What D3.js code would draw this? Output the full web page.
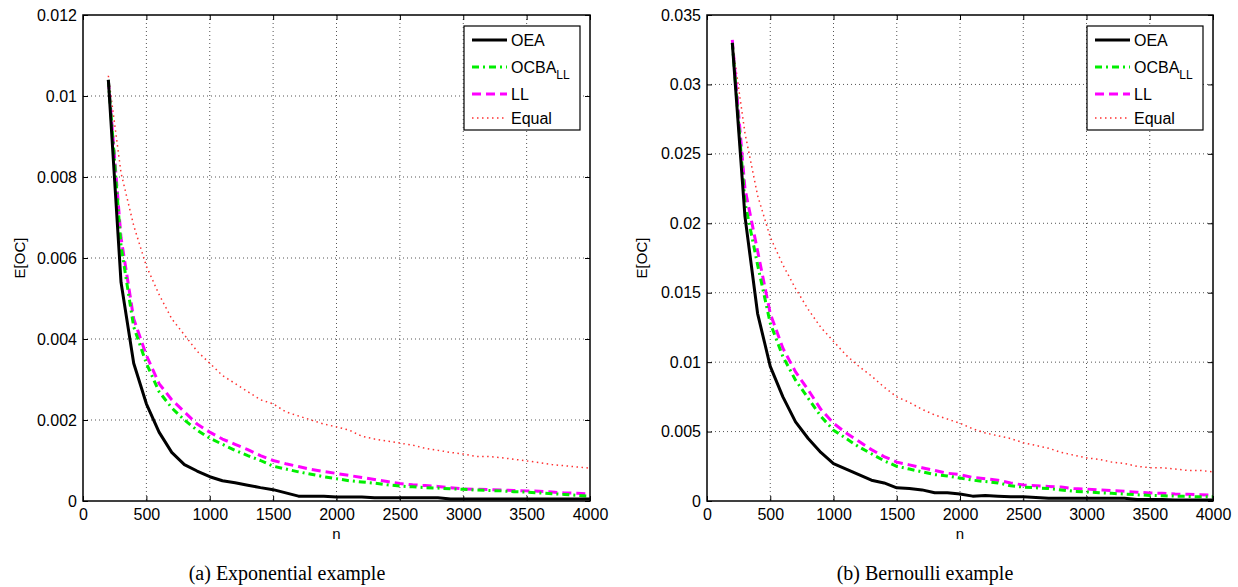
<!DOCTYPE html>
<html><head><meta charset="utf-8">
<script src="https://cdn.jsdelivr.net/npm/d3@7"></script>
<style>
body{margin:0;background:#fff;}
svg text{font-family:"Liberation Sans",Arial,Helvetica,sans-serif;}
</style></head>
<body><svg id="c" width="1238" height="587"></svg>
<script>
// ---- data ----
const nValues = d3.range(200, 4001, 100);
const seriesNames = ["OEA", "OCBA", "LL", "Equal"];
const xTicks = [0, 500, 1000, 1500, 2000, 2500, 3000, 3500, 4000];
const yTicksExp = [0, 0.002, 0.004, 0.006, 0.008, 0.010, 0.012];
const yTicksBer = [0, 0.005, 0.010, 0.015, 0.020, 0.025, 0.030, 0.035];
const captions = ["(a) Exponential example", "(b) Bernoulli example"];

// Exponential example (n = 200..4000 step 100)
const expOEA = [0.0104,0.0054,0.0034,0.0024,0.0017,0.0012,0.0009,0.00074,0.0006,0.0005,0.00045,0.00039,0.00033,0.00028,0.0002,0.00012,0.00012,0.00012,0.0001,0.0001,0.0001,0.00008,0.00008,0.00008,0.00008,0.00008,0.00008,0.00005,0.00005,0.00005,0.00005,0.00005,0.00005,0.00005,0.00005,0.00005,0.00005,0.00005,0.00005];
const expOCBA = [0.0104,0.0063,0.0043,0.0034,0.0027,0.0023,0.002,0.00175,0.00155,0.0014,0.00125,0.00112,0.001,0.00086,0.00079,0.00072,0.00066,0.0006,0.00055,0.0005,0.00047,0.00044,0.0004,0.00037,0.00035,0.00033,0.00032,0.0003,0.00029,0.00027,0.00026,0.00025,0.00023,0.00022,0.0002,0.00018,0.00016,0.00014,0.00012];
const expLL = [0.0104,0.0065,0.0045,0.0036,0.0029,0.0025,0.0022,0.0019,0.0017,0.00153,0.0014,0.00127,0.00112,0.001,0.00092,0.00085,0.00078,0.00073,0.00068,0.00063,0.00058,0.00053,0.00048,0.00043,0.0004,0.00038,0.00036,0.00033,0.0003,0.00029,0.00028,0.00027,0.00026,0.00025,0.00024,0.00022,0.0002,0.00019,0.00017];
const expEqual = [0.0105,0.0081,0.0068,0.0058,0.0051,0.0045,0.0041,0.0037,0.0034,0.0031,0.0029,0.0027,0.0025,0.0024,0.0022,0.0021,0.002,0.0019,0.00183,0.00175,0.0016,0.00153,0.00148,0.00143,0.00138,0.0013,0.00125,0.0012,0.00116,0.0011,0.0011,0.00107,0.00103,0.00099,0.00095,0.0009,0.00087,0.00084,0.00081];

// Bernoulli example
const berOEA = [0.033,0.0205,0.0135,0.0097,0.0075,0.0057,0.0045,0.0035,0.0027,0.0023,0.0019,0.0015,0.0013,0.00095,0.0009,0.0008,0.0006,0.0006,0.0005,0.00035,0.0004,0.00035,0.0003,0.0003,0.00025,0.0002,0.0002,0.0002,0.0002,0.0002,0.0002,0.0002,0.0001,0.0001,0.0001,0.00008,0.00008,0.00008,0.00008];
const berOCBA = [0.033,0.0215,0.017,0.0128,0.0104,0.0087,0.0074,0.0061,0.0051,0.0045,0.0039,0.0034,0.0029,0.0025,0.0023,0.0021,0.0019,0.0018,0.00165,0.0015,0.0014,0.0013,0.0011,0.001,0.00095,0.0009,0.0008,0.0007,0.00065,0.0006,0.00055,0.0005,0.00045,0.0004,0.00038,0.00035,0.00033,0.0003,0.0003];
const berLL = [0.0332,0.0225,0.018,0.0135,0.011,0.0093,0.008,0.0066,0.0056,0.0049,0.0043,0.0037,0.0032,0.0028,0.0026,0.0024,0.0022,0.002,0.0019,0.0017,0.0016,0.0015,0.0013,0.00115,0.0011,0.00105,0.001,0.0009,0.00086,0.0008,0.00075,0.0007,0.00063,0.00058,0.00055,0.0005,0.00048,0.00045,0.00043];
const berEqual = [0.033,0.0265,0.022,0.019,0.017,0.0153,0.0138,0.0125,0.0115,0.0105,0.0097,0.009,0.0082,0.0075,0.0071,0.0066,0.0062,0.0059,0.0056,0.0052,0.0049,0.0047,0.0045,0.0042,0.004,0.0038,0.0035,0.0033,0.0031,0.003,0.0028,0.0027,0.0025,0.0024,0.0024,0.0023,0.0022,0.0022,0.0021];

// ---- styles ----
const styles = {
  OEA:   {color:"#000000", width:3,   dash:null},
  OCBA:  {color:"#00ee00", width:3,   dash:"7,4,2,4"},
  LL:    {color:"#ff00ff", width:3,   dash:"9,5"},
  Equal: {color:"#ff3030", width:1.5, dash:"1.5,3.5"}
};

const svg = d3.select("#c");

function drawPanel(cfg){
  const {left, right, top, bottom, yMax, yTicks, series, legendX, ylabX, caption, capX} = cfg;
  const x = d3.scaleLinear().domain([0, 4000]).range([left, right]);
  const y = d3.scaleLinear().domain([0, yMax]).range([bottom, top]);
  const g = svg.append("g");
  const clipId = "clip" + left;
  g.append("clipPath").attr("id", clipId).append("rect")
    .attr("x", left).attr("y", top).attr("width", right-left).attr("height", bottom-top);

  // grid
  const grid = g.append("g").attr("stroke", "#555").attr("stroke-width", 1).attr("stroke-dasharray", "1,3");
  xTicks.filter(t => t > 0 && t < 4000).forEach(t => {
    grid.append("line").attr("x1", x(t)).attr("x2", x(t)).attr("y1", top).attr("y2", bottom);
  });
  yTicks.filter(t => t > 0 && t < yMax - 1e-9).forEach(t => {
    grid.append("line").attr("x1", left).attr("x2", right).attr("y1", y(t)).attr("y2", y(t));
  });

  // axes
  const fmt = d3.format("~g");
  const axB = g.append("g").attr("transform", `translate(0,${bottom})`)
    .call(d3.axisBottom(x).tickValues(xTicks).tickSize(-5).tickPadding(8).tickFormat(d3.format("d")));
  const axT = g.append("g").attr("transform", `translate(0,${top})`)
    .call(d3.axisTop(x).tickValues(xTicks).tickSize(-5).tickFormat(""));
  const axL = g.append("g").attr("transform", `translate(${left},0)`)
    .call(d3.axisLeft(y).tickValues(yTicks).tickSize(-5).tickPadding(6).tickFormat(fmt));
  const axR = g.append("g").attr("transform", `translate(${right},0)`)
    .call(d3.axisRight(y).tickValues(yTicks).tickSize(-5).tickFormat(""));
  [axB, axT, axL, axR].forEach(a => {
    a.select(".domain").remove();
    a.selectAll("line").attr("stroke", "#000").attr("stroke-width", 1);
    a.selectAll("text").attr("font-size", 16).attr("fill", "#000")
      .style("font-family", "Liberation Sans, Arial, sans-serif");
  });
  axB.selectAll("text").attr("dy", "0.71em");

  // lines (drawn bottom to top: Equal, LL, OCBA, OEA)
  const lineGen = d3.line().x((d, i) => x(nValues[i])).y(d => y(d));
  const lg = g.append("g").attr("clip-path", `url(#${clipId})`);
  ["Equal", "LL", "OCBA", "OEA"].forEach(name => {
    const s = styles[name];
    lg.append("path").datum(series[name]).attr("d", lineGen)
      .attr("fill", "none").attr("stroke", s.color).attr("stroke-width", s.width)
      .attr("stroke-dasharray", s.dash).attr("stroke-linejoin", "round");
  });

  // frame
  g.append("rect").attr("x", left).attr("y", top).attr("width", right-left).attr("height", bottom-top)
    .attr("fill", "none").attr("stroke", "#000").attr("stroke-width", 1.5);

  // legend
  const legW = 116, legH = 104, legY = 26;
  const leg = g.append("g");
  leg.append("rect").attr("x", legendX).attr("y", legY).attr("width", legW).attr("height", legH)
    .attr("fill", "#fff").attr("stroke", "#000").attr("stroke-width", 1.2);
  const rowsY = [40, 67, 94, 118];
  seriesNames.forEach((name, i) => {
    const s = styles[name];
    const yy = rowsY[i];
    leg.append("line").attr("x1", legendX + 8).attr("x2", legendX + 43).attr("y1", yy).attr("y2", yy)
      .attr("stroke", s.color).attr("stroke-width", s.width).attr("stroke-dasharray", s.dash);
    const t = leg.append("text").attr("x", legendX + 47).attr("y", yy + 6).attr("font-size", 16).attr("fill", "#000");
    if (name === "OCBA") {
      t.append("tspan").text("OCBA");
      t.append("tspan").attr("font-size", 12).attr("dy", 6).text("LL");
    } else {
      t.text(name);
    }
  });

  // labels
  g.append("text").attr("x", (left + right) / 2).attr("y", 539).attr("text-anchor", "middle")
    .attr("font-size", 15).text("n");
  g.append("text").attr("transform", `translate(${ylabX},258) rotate(-90)`).attr("text-anchor", "middle")
    .attr("font-size", 15).text("E[OC]");
  g.append("text").attr("x", capX).attr("y", 580).attr("text-anchor", "middle")
    .attr("font-size", 20).style("font-family", "Liberation Serif, Times New Roman, serif").text(caption);
}

drawPanel({left:83, right:590, top:15, bottom:501, yMax:0.012, yTicks:yTicksExp,
  series:{OEA:expOEA, OCBA:expOCBA, LL:expLL, Equal:expEqual},
  legendX:464, ylabX:25, caption:captions[0], capX:287});
drawPanel({left:707, right:1213, top:15, bottom:501, yMax:0.035, yTicks:yTicksBer,
  series:{OEA:berOEA, OCBA:berOCBA, LL:berLL, Equal:berEqual},
  legendX:1087, ylabX:647, caption:captions[1], capX:925});
</script></body></html>
